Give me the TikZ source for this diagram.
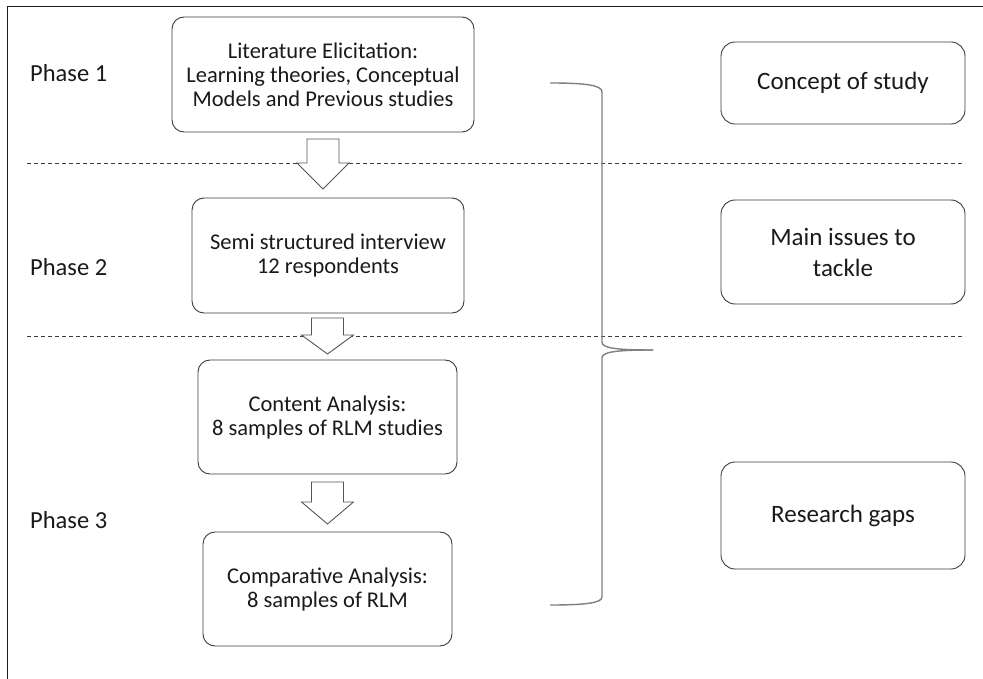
\documentclass[tikz,border=0pt]{standalone}
\usepackage{fontspec}
\setmainfont{Carlito}
\definecolor{edge}{HTML}{3C3C3C}
\definecolor{arrowedge}{HTML}{555555}
\definecolor{bracecol}{HTML}{808080}
\definecolor{ink}{HTML}{1A1A1A}
\tikzset{
  stagebox/.style={draw=edge, line width=0.9pt, rounded corners=12pt, fill=white,
    inner sep=0pt, text=ink, align=center,
    font=\fontsize{22.5}{24}\selectfont},
  outcomebox/.style={draw=edge, line width=0.9pt, rounded corners=14pt, fill=white,
    inner sep=0pt, text=ink, align=center, minimum width=244pt,
    font=\fontsize{25}{31}\selectfont},
  phaselabel/.style={text=ink, anchor=west, inner sep=0pt,
    font=\fontsize{24.5}{28}\selectfont},
  phaseline/.style={draw=edge, line width=0.8pt, dash pattern=on 4pt off 3pt},
  flowarrow/.style={draw=arrowedge, line width=0.9pt, fill=white, line join=miter},
  bracket/.style={draw=bracecol, line width=1.4pt}
}
% hollow block arrow: centre x, top of shaft, base of head, tip
\newcommand{\blockdown}[4]{%
  \path[flowarrow] (#1-16,#2) -- (#1+16,#2) -- (#1+16,#3) -- (#1+26,#3)
    -- (#1,#4) -- (#1-26,#3) -- (#1-16,#3) -- cycle;}
\begin{document}
\begin{tikzpicture}[x=1pt,y=-1pt]
\useasboundingbox (0,0) rectangle (983,679);
\fill[white] (0,0) rectangle (983,679);

% frame
\draw[line width=1.6pt, draw=ink] (7.5,690) -- (7.5,6.5) -- (995,6.5);

% phase separators
\draw[phaseline] (27,163) -- (965,163);
\draw[phaseline] (27,336) -- (965,336);

% phase labels
\node[phaselabel] (p1) at (30,73) {Phase 1};
\node[phaselabel] (p2) at (30,267) {Phase 2};
\node[phaselabel] (p3) at (30,520) {Phase 3};

% flow of stages
\node[stagebox, minimum width=302pt, minimum height=115pt] (lit) at (323,74.5)
  {Literature Elicitation:\\Learning theories, Conceptual\\Models and Previous studies};
\node[stagebox, minimum width=272pt, minimum height=115pt] (interview) at (328,255.5)
  {Semi structured interview\\12 respondents};
\node[stagebox, minimum width=259pt, minimum height=114pt] (content) at (327.5,417)
  {Content Analysis:\\8 samples of RLM studies};
\node[stagebox, minimum width=249pt, minimum height=114pt] (compare) at (327.5,589)
  {Comparative Analysis:\\8 samples of RLM};

% arrows between stages
\blockdown{323}{139}{163}{189}
\blockdown{327.5}{318}{335}{354}
\blockdown{327.5}{482}{502}{524}

% bracket gathering the stages
\coordinate (bt) at (550,83);
\coordinate (bb) at (550,605);
\coordinate (tip) at (653,350);
\draw[bracket] (bt) .. controls (585,83) and (602,85) .. (602,92) -- (602,342)
  .. controls (602,348) and (615,350) .. (tip);
\draw[bracket] (tip) .. controls (615,350) and (602,352) .. (602,358) -- (602,597)
  .. controls (602,603) and (585,605) .. (bb);

% outcomes
\node[outcomebox, minimum height=82pt] (concept) at (843,83) {Concept of study};
\node[outcomebox, minimum height=104pt] (issues) at (843,252) {Main issues to\\tackle};
\node[outcomebox, minimum height=107pt] (gaps) at (843,515.5) {Research gaps};
\end{tikzpicture}
\end{document}
